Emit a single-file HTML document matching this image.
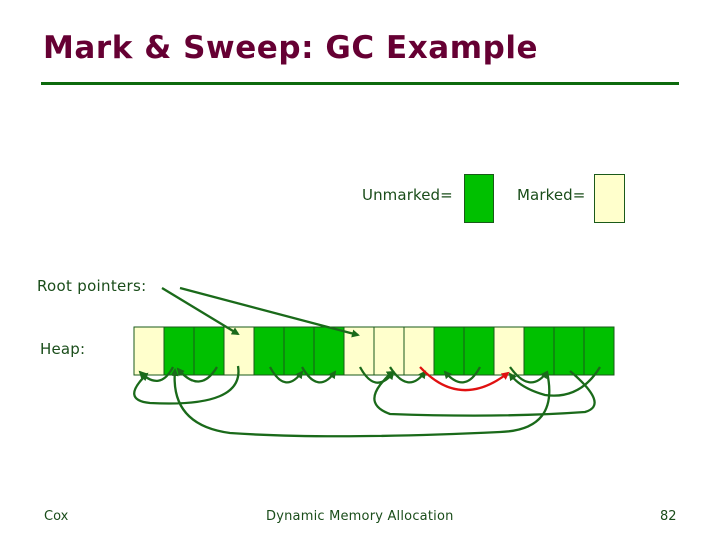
<!DOCTYPE html>
<html><head><style>
body{margin:0;width:720px;height:540px;background:#fff;overflow:hidden;position:relative;font-family:"DejaVu Sans","Liberation Sans",sans-serif}
.t{position:absolute;white-space:nowrap}
</style></head><body>
<div class="t" style="left:43px;top:30px;font-size:31px;font-weight:bold;color:#660033;letter-spacing:0.55px">Mark &amp; Sweep: GC Example</div>
<div style="position:absolute;left:41px;top:82px;width:638px;height:3px;background:#0d6a0d"></div>
<div class="t" style="left:362px;top:186px;font-size:15px;color:#1a4d1a;letter-spacing:0.1px">Unmarked=</div>
<div style="position:absolute;left:464px;top:174px;width:28px;height:47px;background:#00c000;border:1px solid #1a5a1a"></div>
<div class="t" style="left:517px;top:186px;font-size:15px;color:#1a4d1a;letter-spacing:0.1px">Marked=</div>
<div style="position:absolute;left:594px;top:174px;width:29px;height:47px;background:#ffffcc;border:1px solid #1a5a1a"></div>
<div class="t" style="left:37px;top:277px;font-size:15px;color:#1a4d1a;letter-spacing:0.3px">Root pointers:</div>
<div class="t" style="left:40px;top:340px;font-size:15px;color:#1a4d1a;letter-spacing:0.2px">Heap:</div>
<svg width="720" height="540" style="position:absolute;left:0;top:0">
<defs>
<marker id="g" markerWidth="8" markerHeight="8" refX="6" refY="4" orient="auto" markerUnits="userSpaceOnUse"><path d="M0,0L8,4L0,8z" fill="#1a6a1a"/></marker>
<marker id="r" markerWidth="8" markerHeight="8" refX="6" refY="4" orient="auto" markerUnits="userSpaceOnUse"><path d="M0,0L8,4L0,8z" fill="#e01010"/></marker>
</defs>
<g stroke="#1a5a1a" stroke-width="1">
<rect x="134" y="327" width="30" height="48" fill="#ffffcc"/>
<rect x="164" y="327" width="30" height="48" fill="#00c000"/>
<rect x="194" y="327" width="30" height="48" fill="#00c000"/>
<rect x="224" y="327" width="30" height="48" fill="#ffffcc"/>
<rect x="254" y="327" width="30" height="48" fill="#00c000"/>
<rect x="284" y="327" width="30" height="48" fill="#00c000"/>
<rect x="314" y="327" width="30" height="48" fill="#00c000"/>
<rect x="344" y="327" width="30" height="48" fill="#ffffcc"/>
<rect x="374" y="327" width="30" height="48" fill="#ffffcc"/>
<rect x="404" y="327" width="30" height="48" fill="#ffffcc"/>
<rect x="434" y="327" width="30" height="48" fill="#00c000"/>
<rect x="464" y="327" width="30" height="48" fill="#00c000"/>
<rect x="494" y="327" width="30" height="48" fill="#ffffcc"/>
<rect x="524" y="327" width="30" height="48" fill="#00c000"/>
<rect x="554" y="327" width="30" height="48" fill="#00c000"/>
<rect x="584" y="327" width="30" height="48" fill="#00c000"/>
</g>
<g fill="none" stroke="#1a6a1a" stroke-width="2.3" marker-end="url(#g)">
<path d="M162,288 L238,334"/>
<path d="M180,288 L358,335"/>
<path d="M173,367 Q160,392 140,372"/>
<path d="M217,367 Q200,395 178,369"/>
<path d="M238,366 Q245,408 150,403 Q120,400 147,374"/>
<path d="M270,367 Q285,395 302,372"/>
<path d="M302,367 Q318,395 335,372"/>
<path d="M360,367 Q375,395 393,373"/>
<path d="M390,367 Q408,395 425,372"/>
<path d="M480,367 Q465,395 445,372"/>
<path d="M510,367 Q530,395 547,372"/>
<path d="M600,367 Q580,400 545,395 Q520,388 510,374"/>
<path d="M570,371 Q610,405 585,412 Q500,418 390,414 Q365,405 380,385 Q388,375 393,372"/>
<path d="M547,372 Q560,430 500,432 Q330,440 230,433 Q170,425 175,370"/>
</g>
<path d="M420,367 Q460,410 508,373" fill="none" stroke="#e01010" stroke-width="2.3" marker-end="url(#r)"/>
</svg>
<div class="t" style="left:44px;top:509px;font-size:13px;color:#1a4d1a">Cox</div>
<div class="t" style="left:266px;top:509px;font-size:13px;color:#1a4d1a;letter-spacing:0.2px">Dynamic Memory Allocation</div>
<div class="t" style="left:660px;top:509px;font-size:13px;color:#1a4d1a">82</div>
</body></html>
